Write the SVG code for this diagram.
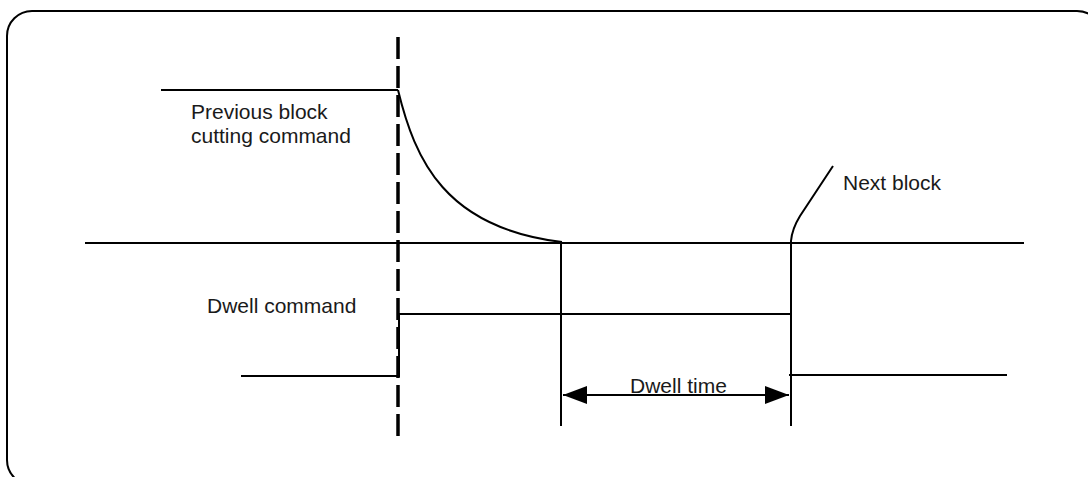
<svg xmlns="http://www.w3.org/2000/svg" width="1088" height="477" viewBox="0 0 1088 477">
<defs>
<style>
.ln{stroke:#000;stroke-width:2;fill:none}
.dash{stroke:#000;stroke-width:3.5;fill:none;stroke-dasharray:22 7}
.t{font-family:"Liberation Sans",Arial,sans-serif;font-size:21px;fill:#1a1a1a}
</style>
<marker id="ah" viewBox="0 0 24 18" refX="24" refY="9" markerWidth="24" markerHeight="18" markerUnits="userSpaceOnUse" orient="auto-start-reverse">
<path d="M0,0 L24,9 L0,18 Z" fill="#000"/>
</marker>
</defs>
<rect x="0" y="0" width="1088" height="477" fill="#fff"/>
<rect id="frame" x="7" y="11" width="1095" height="474" rx="25" ry="25" fill="none" stroke="#000" stroke-width="2"/>
<g id="connectors">
<line class="dash" x1="398" y1="37" x2="398" y2="443"/>
<line class="ln" x1="161" y1="90" x2="398" y2="90"/>
<path class="ln" d="M398,90 C415,160 445,228 562,242"/>
<line class="ln" x1="85" y1="243" x2="1024" y2="243"/>
<line class="ln" x1="561" y1="243" x2="561" y2="426"/>
<line class="ln" x1="791" y1="241" x2="791" y2="426"/>
<path class="ln" d="M791,241 Q792,229 800,216 L833,166"/>
<polyline class="ln" points="241,376 399,376 399,314 791,314"/>
<line class="ln" x1="789" y1="375" x2="1007" y2="375"/>
<line class="ln" x1="563" y1="395" x2="789" y2="395" marker-start="url(#ah)" marker-end="url(#ah)"/>
</g>
<g id="label-previous">
<text class="t" x="191" y="119">Previous block</text>
<text class="t" x="191" y="143">cutting command</text>
</g>
<g id="label-next"><text class="t" x="843" y="190">Next block</text></g>
<g id="label-dwell-command"><text class="t" x="207" y="313">Dwell command</text></g>
<g id="label-dwell-time"><text class="t" x="630" y="393">Dwell time</text></g>
</svg>
